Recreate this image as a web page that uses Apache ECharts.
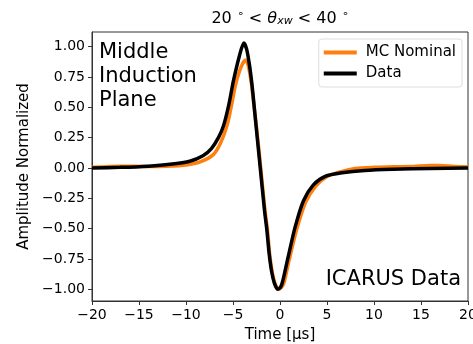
<!DOCTYPE html>
<html>
<head>
<meta charset="utf-8">
<script src="https://cdn.jsdelivr.net/npm/echarts@6/dist/echarts.min.js"></script>
<style>
  html, body { margin: 0; padding: 0; background: #fff; }
  #chart { width: 473px; height: 344px; }
</style>
</head>
<body>
<div id="chart"></div>
<script>
// values
const dataTime = [-20, -17, -14, -11.7, -9.6, -8.2, -7.3, -6.55, -6, -5.45, -4.95, -4.3, -3.85, -3.55, -3.25, -3, -2.8, -2.5, -2.1, -1.65, -1.4, -1.15, -0.9, -0.6, -0.25, 0.05, 0.3, 0.85, 1.6, 2.5, 3.55, 4.8, 6.6, 9, 12, 16, 20]
const dataAmp = [0, 0.005, 0.015, 0.03, 0.055, 0.1, 0.16, 0.25, 0.35, 0.52, 0.72, 0.93, 1.03, 0.98, 0.85, 0.7, 0.55, 0.31, 0, -0.35, -0.51, -0.71, -0.85, -0.95, -1.0, -0.985, -0.93, -0.74, -0.49, -0.27, -0.14, -0.07, -0.04, -0.02, -0.01, -0.004, 0]

const mcTime = [-20, -17, -14, -12, -10, -8.5, -7.1, -6.3, -5.6, -5.1, -4.75, -4.3, -3.9, -3.65, -3.4, -3.05, -2.75, -2.45, -2.05, -1.6, -1.35, -1.1, -0.85, -0.55, -0.15, 0.15, 0.45, 1.0, 1.8, 2.75, 3.8, 5, 6.5, 8, 10, 12, 14, 16, 17, 18.5, 20]
const mcAmp = [0.005, 0.015, 0.012, 0.015, 0.025, 0.05, 0.11, 0.21, 0.36, 0.54, 0.68, 0.8, 0.87, 0.89, 0.85, 0.7, 0.5, 0.3, 0, -0.35, -0.5, -0.71, -0.85, -0.95, -1.0, -0.985, -0.94, -0.75, -0.5, -0.28, -0.15, -0.07, -0.03, -0.005, 0.005, 0.01, 0.012, 0.02, 0.02, 0.012, 0.01]

const yTicks = [-1, -0.75, -0.5, -0.25, 0, 0.25, 0.5, 0.75, 1]

const fmt = (v, d) => (v < 0 ? '\u2212' : '') + Math.abs(v).toFixed(d)
const font = 'DejaVu Sans'

const chart = echarts.init(document.getElementById('chart'))

chart.setOption({
  animation: false,
  textStyle: { fontFamily: font },
  title: {
    text: '{a|20 }{s|∘}{a| < }{i|θ}{sub|xw}{a| < 40 }{s|∘}',
    left: 275,
    top: 4,
    textAlign: 'center',
    textStyle: {
      fontWeight: 'normal',
      rich: {
        a: { fontFamily: font, fontSize: 16, fontWeight: 'normal', color: '#000' },
        s: { fontFamily: font, fontSize: 11, fontWeight: 'normal', color: '#000', padding: [0, 0, 8, 0] },
        i: { fontFamily: font, fontSize: 16, fontWeight: 'normal', fontStyle: 'italic', color: '#000' },
        sub: { fontFamily: font, fontSize: 11, fontWeight: 'normal', fontStyle: 'italic', color: '#000', padding: [6, 0, 0, 0] }
      }
    }
  },
  grid: {
    left: 92, right: 5, top: 32, bottom: 43,
    outerBoundsMode: 'none',
    containLabel: false,
    show: true, borderColor: '#333', borderWidth: 1, backgroundColor: 'transparent'
  },
  legend: {
    right: 11,
    top: 39,
    orient: 'vertical',
    itemWidth: 33,
    itemHeight: 4,
    itemGap: 6,
    padding: [6, 6, 6, 5],
    backgroundColor: 'rgba(255,255,255,0.8)',
    borderColor: '#ddd',
    borderWidth: 1,
    borderRadius: 3,
    textStyle: { fontFamily: font, fontSize: 15, color: '#000', padding: [0, 0, 0, 4] },
    data: [
      { name: 'MC Nominal', icon: 'rect', itemStyle: { color: '#ff7f0e' } },
      { name: 'Data', icon: 'rect', itemStyle: { color: '#000' } }
    ]
  },
  xAxis: {
    type: 'value',
    min: -20,
    max: 20,
    interval: 5,
    name: 'Time [μs]',
    nameLocation: 'middle',
    nameGap: 27,
    nameTextStyle: { fontFamily: font, fontSize: 15, color: '#000' },
    axisLine: { show: true, onZero: false, lineStyle: { color: '#333' } },
    axisTick: { show: true, length: 4, lineStyle: { color: '#333' } },
    axisLabel: { fontFamily: font, fontSize: 14, color: '#000', margin: 7, formatter: v => fmt(v, 0) },
    splitLine: { show: false }
  },
  yAxis: {
    type: 'value',
    min: -1.097,
    max: 1.121,
    name: 'Amplitude Normalized',
    nameLocation: 'middle',
    nameGap: 57,
    nameTextStyle: { fontFamily: font, fontSize: 15, color: '#000' },
    axisLine: { show: true, onZero: false, lineStyle: { color: '#333' } },
    axisTick: { show: true, length: 4, customValues: yTicks, lineStyle: { color: '#333' } },
    axisLabel: { fontFamily: font, fontSize: 14, color: '#000', margin: 7, customValues: yTicks, formatter: v => fmt(v, 2) },
    splitLine: { show: false }
  },
  graphic: [
    {
      type: 'text',
      left: 99,
      top: 41,
      style: { text: 'Middle\nInduction\nPlane', fontFamily: font, fontSize: 21, lineHeight: 24, fill: '#000' }
    },
    {
      type: 'text',
      right: 12,
      top: 269,
      style: { text: 'ICARUS Data', fontFamily: font, fontSize: 21, fill: '#000' }
    }
  ],
  series: [
    {
      name: 'MC Nominal',
      type: 'line',
      data: mcTime.map((t, i) => [t, mcAmp[i]]),
      smooth: 0.25,
      showSymbol: false,
      lineStyle: { color: '#ff7f0e', width: 3.5 },
      itemStyle: { color: '#ff7f0e' },
      z: 2
    },
    {
      name: 'Data',
      type: 'line',
      data: dataTime.map((t, i) => [t, dataAmp[i]]),
      smooth: 0.25,
      showSymbol: false,
      lineStyle: { color: '#000', width: 3.5 },
      itemStyle: { color: '#000' },
      z: 3
    }
  ]
})

window.addEventListener('resize', function () {
  chart.resize()
})
</script>
</body>
</html>
